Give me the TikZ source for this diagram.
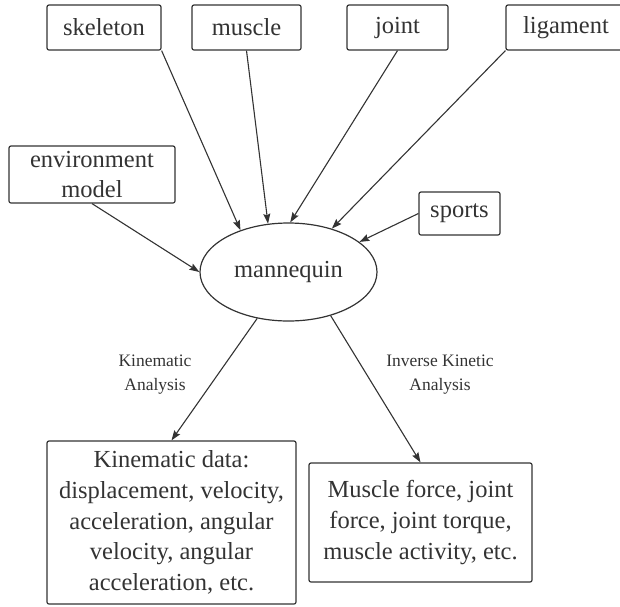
\documentclass[tikz,border=0pt]{standalone}
\usepackage{fontspec}
\setmainfont{LiberationSerif}[Extension=.ttf, UprightFont=*-Regular, BoldFont=*-Bold, ItalicFont=*-Italic, BoldItalicFont=*-BoldItalic]
\usetikzlibrary{arrows.meta,shapes.geometric}
\definecolor{ink}{HTML}{333333}
\tikzset{
  box/.style={draw=ink, line width=1.2pt, rounded corners=2pt, inner sep=0pt,
    align=center, text=ink, font=\rmfamily\fontsize{24.5}{30.7}\selectfont},
  oval/.style={draw=ink, line width=1.2pt, ellipse, inner sep=0pt, text=ink,
    font=\rmfamily\fontsize{24.5}{30.7}\selectfont},
  lbl/.style={align=center, text=ink, inner sep=0pt, font=\rmfamily\fontsize{17.5}{24}\selectfont},
  conn/.style={draw=ink, line width=1.1pt, -{Stealth[length=10pt,width=7pt,inset=1.5pt]}}
}
\begin{document}
\begin{tikzpicture}[x=1pt,y=-1pt]
\useasboundingbox (0,0) rectangle (620,606);
\node[box, minimum width=114pt, minimum height=45pt] (skel) at (104,27.5) {skeleton};
\node[box, minimum width=109pt, minimum height=45pt] (musc) at (246.5,27.5) {muscle};
\node[box, minimum width=101pt, minimum height=45pt] (joint) at (397.5,27.5) {joint};
\node[box, minimum width=120pt, minimum height=45pt] (lig) at (566,27.5) {ligament};
\node[box, minimum width=166pt, minimum height=57pt] (env) at (92,174.5) {environment\\model};
\node[box, minimum width=81pt, minimum height=43pt] (sport) at (459.5,213.5) {sports};
\node[oval, minimum width=177pt, minimum height=98pt] (mann) at (288.5,272) {mannequin};
\node[box, minimum width=249pt, minimum height=163pt] (kin) at (171.5,522.5)
  {Kinematic data:\\displacement, velocity,\\acceleration, angular\\velocity, angular\\acceleration, etc.};
\node[box, minimum width=223pt, minimum height=119pt] (inv) at (420.5,522.5)
  {Muscle force, joint\\force, joint torque,\\muscle activity, etc.};
\node[lbl] (kinlbl) at (155,375) {Kinematic\\Analysis};
\node[lbl] (invlbl) at (440,375) {Inverse Kinetic\\Analysis};
\draw[conn] (skel.south east) -- (mann.139.6);
\draw[conn] (musc.south) -- (mann.113);
\draw[conn] (joint.south) -- (mann.88);
\draw[conn] (lig.south west) -- (mann.45.3);
\draw[conn] (env.south) -- (mann.180);
\draw[conn] (sport.west) -- (mann.23);
\draw[conn] (mann.236) -- (kin.north);
\draw[conn] (mann.314.7) -- (inv.north);
\end{tikzpicture}
\end{document}
